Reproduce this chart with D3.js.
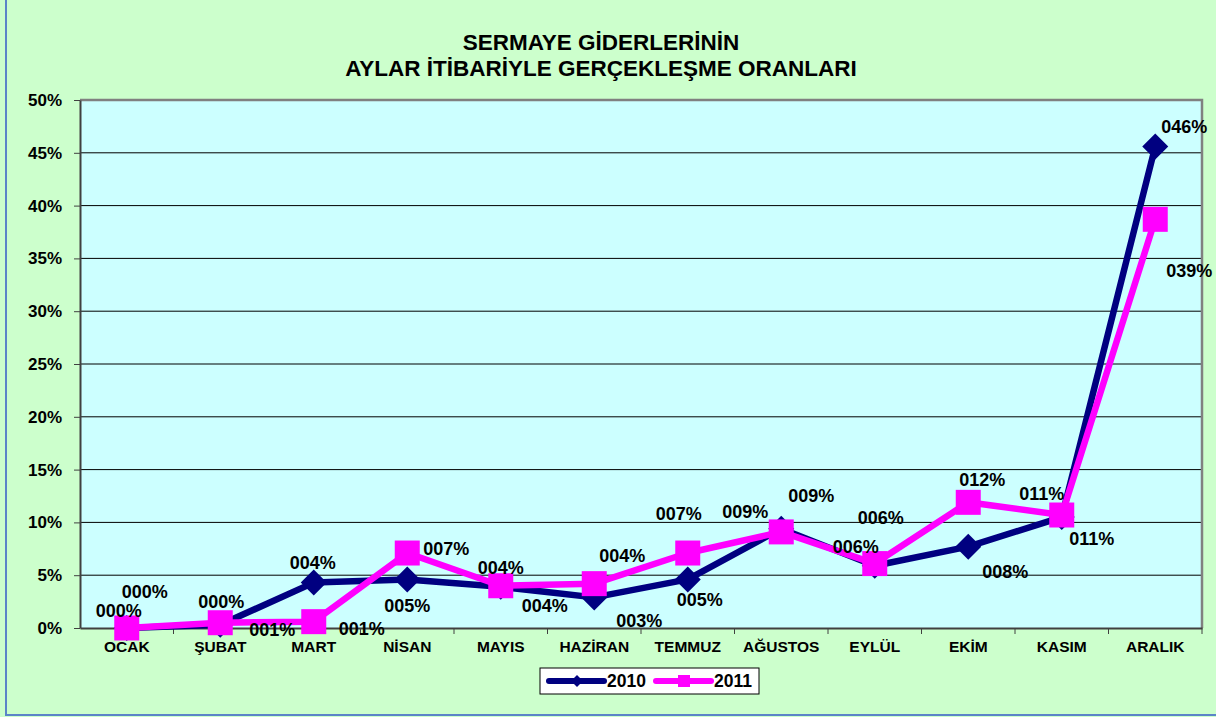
<!DOCTYPE html>
<html>
<head>
<meta charset="utf-8">
<script src="https://cdn.jsdelivr.net/npm/d3@7"></script>
<style>
  body { margin: 0; background: #ccffcc; }
  svg { display: block; font-family: "Liberation Sans", Arial, sans-serif; }
</style>
</head>
<body>
<div id="chart"></div>
<script>
const months = ["OCAK", "ŞUBAT", "MART", "NİSAN", "MAYIS", "HAZİRAN", "TEMMUZ", "AĞUSTOS", "EYLÜL", "EKİM", "KASIM", "ARALIK"];
const values2010 = [0, 0.3, 4.3, 4.6, 3.9, 2.9, 4.6, 9.4, 5.9, 7.7, 10.5, 45.6];
const values2011 = [0, 0.5, 0.6, 7.1, 4.0, 4.2, 7.1, 9.1, 6.1, 11.9, 10.7, 38.7];
const labels2010 = ["000%", "000%", "004%", "005%", "004%", "003%", "005%", "009%", "006%", "008%", "011%", "046%"];
const labels2011 = ["000%", "001%", "001%", "007%", "004%", "004%", "007%", "009%", "006%", "012%", "011%", "039%"];
const yTicks = [0, 5, 10, 15, 20, 25, 30, 35, 40, 45, 50];

// label offsets (px) from each point, as placed in the original
const offsets2010 = [[18, -36], [1, -23], [-1, -20], [0, 26], [44, 19], [45, 23], [12, 20], [30, -33], [-19, -19], [37, 25], [-20, -23], [29, -20]];
const offsets2011 = [[-8, -17], [52, 7], [48, 7], [39, -4], [0, -18], [28, -28], [-9, -39], [-36, -20], [6, -46], [14, -23], [30, 24], [34, 51]];

const W = 1216, H = 717;
const margin = {top: 100, right: 14, bottom: 89, left: 80};
const width = W - margin.left - margin.right,
      height = H - margin.top - margin.bottom;

const svg = d3.select("#chart").append("svg")
    .attr("width", W)
    .attr("height", H);

// outer frame
svg.append("rect")
    .attr("x", 6).attr("y", -5)
    .attr("width", W + 10).attr("height", 720)
    .attr("fill", "#ccffcc")
    .attr("stroke", "#5b84c8")
    .attr("stroke-width", 2);

svg.append("text")
    .attr("x", 601).attr("y", 50)
    .attr("text-anchor", "middle")
    .style("font-size", "22.5px").style("font-weight", "bold")
    .text("SERMAYE GİDERLERİNİN");
svg.append("text")
    .attr("x", 601).attr("y", 76)
    .attr("text-anchor", "middle")
    .style("font-size", "22.5px").style("font-weight", "bold")
    .text("AYLAR İTİBARİYLE GERÇEKLEŞME ORANLARI");

const g = svg.append("g")
    .attr("transform", `translate(${margin.left},${margin.top})`);

const x = d3.scaleBand().domain(months).range([0, width]);
const y = d3.scaleLinear().domain([0, 50]).range([height, 0]);
const cx = d => x(d) + x.bandwidth() / 2;

g.append("rect")
    .attr("width", width).attr("height", height)
    .attr("fill", "#ccffff");

// gridlines
g.selectAll(".grid")
    .data(yTicks.slice(1, -1))
    .enter().append("line")
    .attr("x1", 0).attr("x2", width)
    .attr("y1", d => y(d)).attr("y2", d => y(d))
    .attr("stroke", "#000").attr("stroke-width", 1);

// top and right border
g.append("path")
    .attr("d", `M0,${y(50)}H${width}V${height}`)
    .attr("fill", "none")
    .attr("stroke", "#808080").attr("stroke-width", 2.5);

const yAxis = g.append("g")
    .call(d3.axisLeft(y).tickValues(yTicks).tickFormat(d => d + "%").tickSize(6).tickSizeOuter(0));
yAxis.select(".domain").attr("stroke", "#404040").attr("stroke-width", 2);
yAxis.selectAll(".tick line").attr("stroke", "#404040");
yAxis.selectAll("text")
    .attr("x", -18)
    .style("font-size", "17px").style("font-weight", "bold")
    .style("font-family", "Liberation Sans, Arial, sans-serif")
    .attr("fill", "#000");

const xAxis = g.append("g")
    .attr("transform", `translate(0,${height})`)
    .call(d3.axisBottom(x).tickSize(0).tickSizeOuter(0));
xAxis.select(".domain").attr("stroke", "#404040").attr("stroke-width", 2);
xAxis.selectAll("text")
    .attr("y", 13)
    .style("font-size", "15.5px").style("font-weight", "bold")
    .style("font-family", "Liberation Sans, Arial, sans-serif")
    .attr("fill", "#000");
// ticks between categories
xAxis.selectAll(".sep")
    .data(months.slice(1))
    .enter().append("line")
    .attr("x1", d => x(d)).attr("x2", d => x(d))
    .attr("y1", 0).attr("y2", 6)
    .attr("stroke", "#404040");
xAxis.append("line")
    .attr("x1", width).attr("x2", width).attr("y1", 0).attr("y2", 6)
    .attr("stroke", "#404040");

const line = d3.line()
    .x((d, i) => cx(months[i]))
    .y(d => y(d));

function drawSeries(vals, color, shape) {
    g.append("path")
        .datum(vals)
        .attr("fill", "none")
        .attr("stroke", color)
        .attr("stroke-width", 6.5)
        .attr("stroke-linejoin", "round")
        .attr("d", line);
    g.selectAll(null)
        .data(vals)
        .enter().append("path")
        .attr("transform", (d, i) => `translate(${cx(months[i])},${y(d)})`)
        .attr("d", shape)
        .attr("fill", color);
}

const diamond = "M0,-13L13,0L0,13L-13,0Z";
const square = "M-12.5,-12.5H12.5V12.5H-12.5Z";

drawSeries(values2010, "#000080", diamond);
drawSeries(values2011, "#ff00ff", square);

function drawLabels(vals, labels, offs) {
    g.selectAll(null)
        .data(vals)
        .enter().append("text")
        .attr("x", (d, i) => cx(months[i]) + offs[i][0])
        .attr("y", (d, i) => y(d) + offs[i][1])
        .attr("dy", "0.35em")
        .attr("text-anchor", "middle")
        .style("font-size", "18px").style("font-weight", "bold")
        .text((d, i) => labels[i]);
}
drawLabels(values2010, labels2010, offsets2010);
drawLabels(values2011, labels2011, offsets2011);

// legend
const lg = svg.append("g").attr("transform", "translate(540,668)");
lg.append("rect")
    .attr("width", 219).attr("height", 26)
    .attr("fill", "#fff").attr("stroke", "#000").attr("stroke-width", 1);
const legendItems = [
    {name: "2010", color: "#000080", shape: "M0,-6L6,0L0,6L-6,0Z", x: 9},
    {name: "2011", color: "#ff00ff", shape: "M-6,-6H6V6H-6Z", x: 116}
];
legendItems.forEach(it => {
    lg.append("line")
        .attr("x1", it.x).attr("x2", it.x + 55)
        .attr("y1", 13).attr("y2", 13)
        .attr("stroke", it.color).attr("stroke-width", 6)
        .attr("stroke-linecap", "round");
    lg.append("path")
        .attr("transform", `translate(${it.x + 28},13)`)
        .attr("d", it.shape)
        .attr("fill", it.color);
    lg.append("text")
        .attr("x", it.x + 58).attr("y", 13)
        .attr("dy", "0.36em")
        .style("font-size", "17.5px").style("font-weight", "bold")
        .text(it.name);
});
</script>
</body>
</html>
